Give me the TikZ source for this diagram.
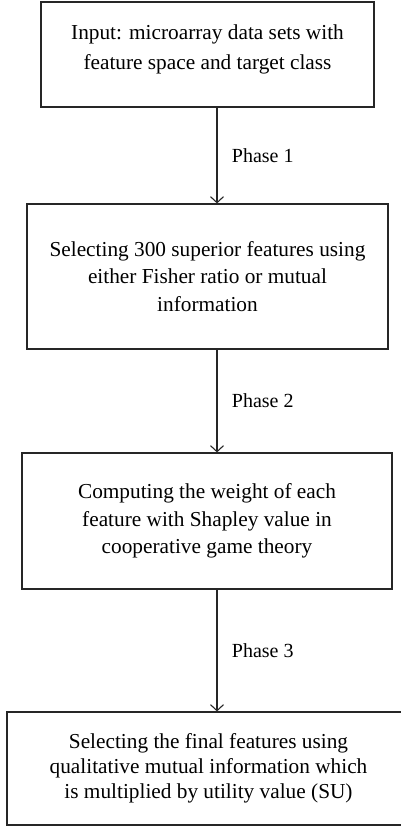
\documentclass[tikz,border=0pt]{standalone}
\usepackage{fontspec}
\setmainfont{Liberation Serif}
\usetikzlibrary{arrows.meta, positioning}

\begin{document}
\begin{tikzpicture}[x=1pt, y=-1pt,
  stagebox/.style={draw=black!85, line width=1.2pt, align=center, inner sep=0pt,
    font=\fontsize{21.3}{27.5}\selectfont},
  phasearrow/.style={draw=black!85, line width=1.1pt, -{Straight Barb[length=6pt,width=13pt]}},
  phaselabel/.style={font=\fontsize{20}{24}\selectfont, anchor=west, xshift=11pt}]
\useasboundingbox (0,0) rectangle (401,835);
% etapas
\node[stagebox, minimum width=333pt, minimum height=105pt] (input) at (207.5,54.5)
  {\begin{tabular}{@{}c@{}}Input: microarray data sets with\\[2.5pt]feature space and target class\\[12pt]\end{tabular}};
\node[stagebox, minimum width=361pt, minimum height=145pt] (select) at (207.5,276.5)
  {Selecting 300 superior features using\\either Fisher ratio or mutual\\information};
\node[stagebox, minimum width=370pt, minimum height=136pt] (shapley) at (207,521)
  {Computing the weight of each\\feature with Shapley value in\\cooperative game theory};
\node[stagebox, minimum width=420pt, minimum height=113pt, font=\fontsize{21.3}{25}\selectfont] (final) at (217,768.5)
  {\hspace*{-17pt}\begin{tabular}{@{}c@{}}Selecting the final features using\\qualitative mutual information which\\is multiplied by utility value (SU)\end{tabular}};
% fases
\coordinate (axis) at (217,0);
\draw[phasearrow] (input.south -| axis) -- node[phaselabel] {Phase 1} (select.north -| axis);
\draw[phasearrow] (select.south -| axis) -- node[phaselabel] {Phase 2} (shapley.north -| axis);
\draw[phasearrow] (shapley.south -| axis) -- node[phaselabel] {Phase 3} (final.north -| axis);
\end{tikzpicture}
\end{document}
